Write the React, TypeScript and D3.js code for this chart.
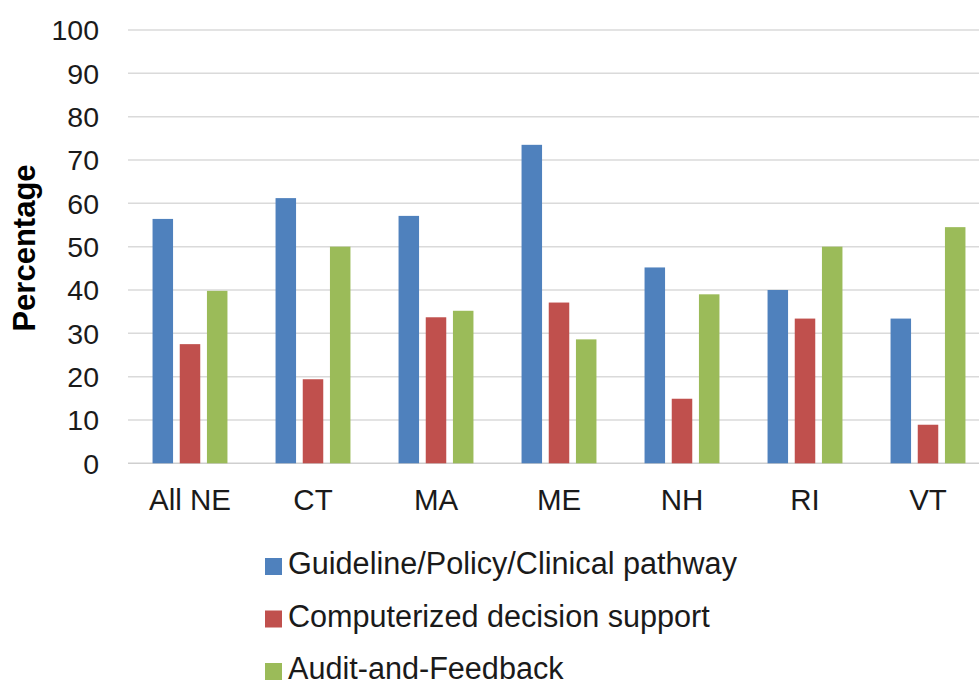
import React, { useEffect, useRef } from "react";
import * as d3 from "d3";

// Categorías y series
const categories = ["All NE", "CT", "MA", "ME", "NH", "RI", "VT"];
const seriesNames = [
  "Guideline/Policy/Clinical pathway",
  "Computerized decision support",
  "Audit-and-Feedback",
];
const guideline = [56.4, 61.2, 57.1, 73.5, 45.2, 40.0, 33.4];
const decisionSupport = [27.5, 19.4, 33.7, 37.1, 14.9, 33.4, 8.9];
const auditFeedback = [39.8, 50.0, 35.2, 28.6, 39.0, 50.0, 54.5];
const yTicks = [0, 10, 20, 30, 40, 50, 60, 70, 80, 90, 100];
const colors = ["#4f81bd", "#c0504d", "#9bbb59"];

const W = 979;
const H = 686;

const App: React.FC = () => {
  const ref = useRef<SVGSVGElement | null>(null);

  useEffect(() => {
    if (!ref.current) return;
    const svg = d3.select(ref.current);
    svg.selectAll("*").remove();

    const values = [guideline, decisionSupport, auditFeedback];
    const font = "Liberation Sans, Arial, sans-serif";

    // Escalas
    const x0 = d3.scaleBand<string>().domain(categories).range([128.5, 989.5]);
    const x1 = d3
      .scaleBand<string>()
      .domain(seriesNames)
      .range([-40.8, 40.8])
      .paddingInner(0.246)
      .paddingOuter(0.123);
    const y = d3.scaleLinear().domain([0, 100]).range([463.3, 30]);

    // Líneas de cuadrícula
    svg
      .append("g")
      .selectAll("line")
      .data(yTicks)
      .join("line")
      .attr("x1", 128)
      .attr("x2", W)
      .attr("y1", (d) => y(d))
      .attr("y2", (d) => y(d))
      .attr("stroke", (d) => (d === 0 ? "#cfcfcf" : "#dadada"))
      .attr("stroke-width", 1.5);

    // Etiquetas del eje Y
    svg
      .append("g")
      .selectAll("text")
      .data(yTicks)
      .join("text")
      .attr("x", 99)
      .attr("y", (d) => y(d))
      .attr("dy", "0.36em")
      .attr("text-anchor", "end")
      .attr("font-family", font)
      .attr("font-size", 28.5)
      .attr("fill", "#1a1a1a")
      .text((d) => d);

    // Barras
    const groups = svg
      .append("g")
      .selectAll("g")
      .data(categories)
      .join("g")
      .attr("transform", (d) => `translate(${x0(d)! + x0.bandwidth() / 2},0)`);

    groups
      .selectAll("rect")
      .data((_, i) => seriesNames.map((s, j) => ({ s, v: values[j][i], j })))
      .join("rect")
      .attr("x", (d) => x1(d.s)!)
      .attr("width", x1.bandwidth())
      .attr("y", (d) => y(d.v))
      .attr("height", (d) => y(0) - y(d.v))
      .attr("fill", (d) => colors[d.j]);

    // Etiquetas del eje X
    svg
      .append("g")
      .selectAll("text")
      .data(categories)
      .join("text")
      .attr("x", (d) => x0(d)! + x0.bandwidth() / 2)
      .attr("y", 510)
      .attr("text-anchor", "middle")
      .attr("font-family", font)
      .attr("font-size", 29.5)
      .attr("fill", "#1a1a1a")
      .text((d) => d);

    // Título del eje Y
    svg
      .append("text")
      .attr("transform", "translate(35,248) rotate(-90)")
      .attr("text-anchor", "middle")
      .attr("font-family", font)
      .attr("font-size", 31)
      .attr("font-weight", "bold")
      .attr("fill", "#000")
      .text("Percentage");

    // Leyenda
    const legend = svg
      .append("g")
      .selectAll("g")
      .data(seriesNames)
      .join("g")
      .attr("transform", (_, i) => `translate(265,${574 + i * 52.5})`);

    legend
      .append("rect")
      .attr("x", 0)
      .attr("y", -16)
      .attr("width", 17)
      .attr("height", 17)
      .attr("fill", (_, i) => colors[i]);

    legend
      .append("text")
      .attr("x", 23)
      .attr("y", 0)
      .attr("font-family", font)
      .attr("font-size", 30.6)
      .attr("fill", "#1a1a1a")
      .text((d) => d);
  }, []);

  return (
    <svg
      ref={ref}
      width={W}
      height={H}
      style={{ position: "absolute", left: 0, top: 0, background: "#fff" }}
    />
  );
};

export default App;
